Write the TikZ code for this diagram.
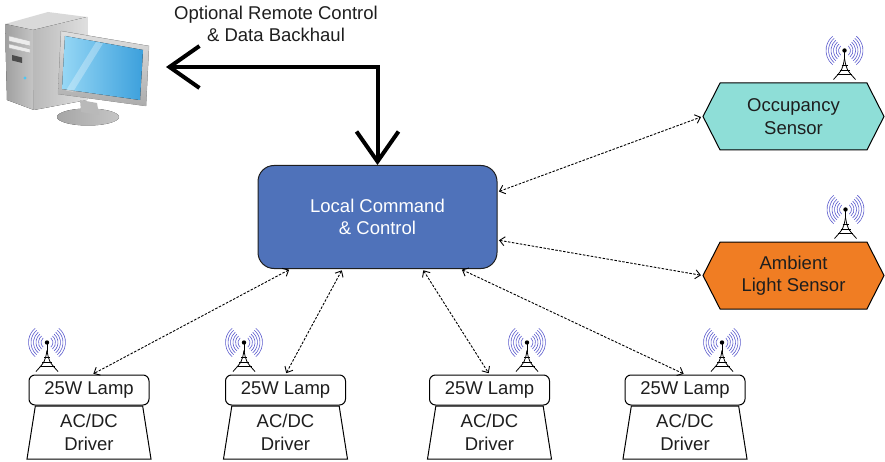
\documentclass[tikz,border=0pt]{standalone}
\usepackage{fontspec}
\setmainfont{Liberation Sans}
\usepackage{tikz}
\usetikzlibrary{calc,positioning}
\usetikzlibrary{arrows.meta,shapes.geometric,shapes.symbols}

\definecolor{cmdblue}{RGB}{79,114,186}
\definecolor{occcyan}{RGB}{142,222,215}
\definecolor{ambiorange}{RGB}{240,125,35}
\definecolor{wavecol}{RGB}{90,90,205}
\definecolor{txtgray}{RGB}{30,30,30}
\definecolor{scrlight}{RGB}{150,215,245}
\definecolor{scrdark}{RGB}{60,160,220}

% radio mast with its waves, drawn from the foot upwards
\tikzset{pics/antenna/.style={code={
  \fill (0,-29) circle (2.2);
  \draw[line width=.8pt] (0,-29) -- (0,-20);
  \draw[line width=.8pt] (0,-21) .. controls (-2,-10) .. (-11,0);
  \draw[line width=.8pt] (0,-21) .. controls (2,-10) .. (11,0);
  \draw[line width=.7pt] (-3,-14) -- (3,-14) (-5,-9.5) -- (5,-9.5) (-7.5,-5) -- (7.5,-5);
  \foreach \rr in {6,8.5,11,13.5,16,18.5}{
    \draw[wavecol, line width=.6pt] (0,-29) ++(50:\rr) arc (50:-50:\rr);
    \draw[wavecol, line width=.6pt] (0,-29) ++(130:\rr) arc (130:230:\rr);
  }
}}}

\begin{document}
\begin{tikzpicture}[x=1pt,y=-1pt,
    every node/.style={font=\fontsize{18.5}{22.5}\selectfont, text=txtgray, align=center},
    lampbox/.style={draw, rounded corners=6pt, line width=1pt, minimum width=120pt,
      minimum height=30pt, inner sep=0pt},
    driver/.style={draw, trapezium, trapezium left angle=77, trapezium right angle=77,
      trapezium stretches body, minimum width=124pt, minimum height=53pt,
      line width=1pt, inner sep=0pt},
    sensor/.style={draw, signal, signal to=west and east, signal pointer angle=126,
      minimum width=181pt, minimum height=67pt, line width=1pt, inner sep=0pt},
    link/.style={<->, >={Straight Barb[length=5pt,width=9pt]},
      dash pattern=on 2.5pt off 1.5pt, line width=.9pt, shorten >=1.5pt, shorten <=1.5pt},
    backhaul/.style={line width=4pt,
      {Straight Barb[length=30pt,width=42pt]}-{Straight Barb[length=30pt,width=42pt]}}]

  \useasboundingbox (0,0) rectangle (885,462);

  % the PC: tower
  \fill[gray!30] (5,24) -- (48,12) -- (87,17) -- (33,30) -- cycle;
  \fill[left color=gray!75, right color=gray!45] (5,24) -- (33,30) -- (34,110) -- (7,100) -- cycle;
  \fill[left color=gray!55, right color=gray!25] (33,30) -- (87,17) -- (87,100) -- (34,110) -- cycle;
  \filldraw[fill=gray!15, draw=gray!60] (9,36) -- (30,41) -- (30,46) -- (9,41) -- cycle;
  \filldraw[fill=gray!15, draw=gray!60] (9,44) -- (30,49) -- (30,53) -- (9,48) -- cycle;
  \fill[black!70] (12,55) -- (22,57.5) -- (22,63) -- (12,60.5) -- cycle;
  \fill[cyan!70] (25,78) circle (1.6);
  % the PC: monitor
  \fill[left color=gray!70, right color=gray!45] (88,117) ellipse (31 and 8.5);
  \fill[gray!55] (80,100) -- (97,103) -- (99,115) -- (81,112) -- cycle;
  \filldraw[top color=gray!25, bottom color=gray!65, draw=gray!60] (61,31) -- (149,46) -- (146,106) -- (58,94) -- cycle;
  \fill[left color=scrlight, right color=scrdark] (65,36) -- (143,50) -- (140,100) -- (62,89) -- cycle;
  \fill[white, opacity=.3] (96,42) -- (103,43.5) -- (73,92) -- (66,90.5) -- cycle;
  \coordinate (pc) at (166,67);

  \node (remote) at (276,24) {Optional Remote Control\\\& Data Backhaul};

  \node[draw=txtgray, fill=cmdblue, rounded corners=16pt, line width=1pt,
    minimum width=239pt, minimum height=103pt, text=white] (lcc) at (377.5,217)
    {Local Command\\\& Control};

  \node[sensor, fill=occcyan] (occ) at (793.5,116.5) {Occupancy\\Sensor};
  \node[sensor, fill=ambiorange] (amb) at (793.5,275.5) {Ambient\\Light Sensor};

  \node[lampbox] (lampa) at (89,390) {25W Lamp};
  \node[driver, below=0pt of lampa] (drva) {AC/DC\\Driver};
  \node[lampbox] (lampb) at (285.5,390) {25W Lamp};
  \node[driver, below=0pt of lampb] (drvb) {AC/DC\\Driver};
  \node[lampbox] (lampc) at (489.5,390) {25W Lamp};
  \node[driver, below=0pt of lampc] (drvc) {AC/DC\\Driver};
  \node[lampbox] (lampd) at (685,390) {25W Lamp};
  \node[driver, below=0pt of lampd] (drvd) {AC/DC\\Driver};

  \pic at ($(lampa.north)+(-42,-3)$) {antenna};
  \pic at ($(lampb.north)+(-41.5,-3)$) {antenna};
  \pic at ($(lampc.north)+(37.5,-3)$) {antenna};
  \pic at ($(lampd.north)+(37,-3)$) {antenna};
  \pic at ($(occ.north)+(51,-3)$) {antenna};
  \pic at ($(amb.north)+(52,-3)$) {antenna};

  \draw[backhaul] (pc) -| (lcc.north);

  \draw[link] ([xshift=-87pt]lcc.south) -- ([xshift=3pt]lampa.north);
  \draw[link] ([xshift=-35pt]lcc.south) -- (lampb.north);
  \draw[link] ([xshift=45pt]lcc.south) -- (lampc.north);
  \draw[link] ([xshift=83pt]lcc.south) -- (lampd.north);
  \draw[link] ([yshift=25pt]lcc.east) -- (occ.west);
  \draw[link] ([yshift=-23pt]lcc.east) -- (amb.west);
\end{tikzpicture}
\end{document}
